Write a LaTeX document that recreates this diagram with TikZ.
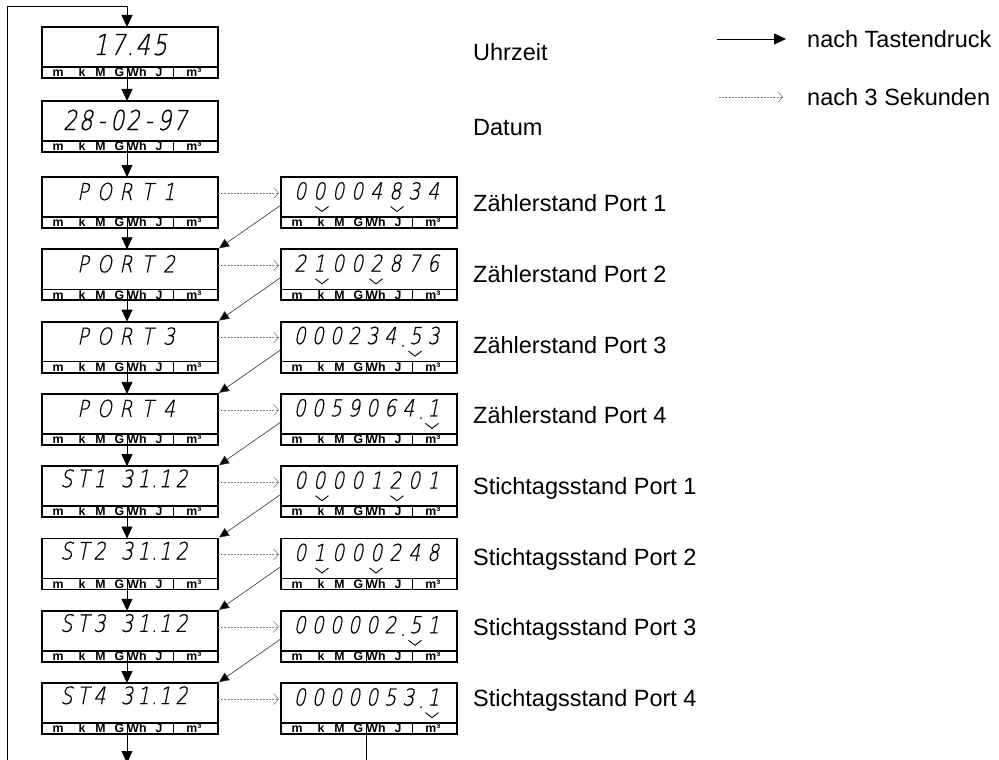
\documentclass[tikz,border=0pt]{standalone}
\usepackage{fontspec}
\setmainfont{Liberation Sans}
\newfontfamily\lcdfont{DejaVu Sans ExtraLight}[FakeSlant=0.2,FakeStretch=0.8,FakeBold=0.6]
\usetikzlibrary{arrows.meta}
\newlength\cw
\newcommand\dgt[1]{\makebox[\cw]{#1}}
\newcommand\dpt{\makebox[7pt]{\raisebox{-2.5pt}{.}}}
\tikzset{
  lcdbox/.style={draw, line width=1.9pt, minimum width=176pt, minimum height=51pt, inner sep=0pt, outer sep=0pt, anchor=north west},
  unitlbl/.style={font=\bfseries\fontsize{12.3}{12.3}\selectfont, anchor=base, inner sep=0pt},
  lcdtxt/.style={inner sep=0pt, anchor=base west},
  bigdig/.style={lcdtxt, font=\lcdfont\fontsize{28.8}{30}\selectfont},
  middig/.style={lcdtxt, font=\lcdfont\fontsize{27.4}{30}\selectfont},
  smalldig/.style={lcdtxt, font=\lcdfont\fontsize{23.3}{25}\selectfont},
  stdig/.style={lcdtxt, font=\lcdfont\fontsize{24}{25}\selectfont},
  flow/.style={line width=0.8pt, -{Triangle[length=12pt,width=11pt]}},
  flowdiag/.style={line width=0.6pt, draw=black!80, -{Triangle[length=10pt,width=9pt,fill=black]}},
  timed/.style={line width=0.6pt, draw=gray, dash pattern=on 2pt off 1.2pt, -{Straight Barb[length=5pt,width=11pt]}},
  lbl/.style={font=\fontsize{23.5}{23.5}\selectfont, anchor=base west, inner sep=0pt},
  chev/.style={line width=0.9pt}
}
\newcommand\unitbar[1]{%
  \draw[line width=1.6pt] ([yshift=-40pt]#1.north west) -- ([yshift=-40pt]#1.north east);
  \draw[line width=0.8pt] ([shift={(85,40)}]#1.north west) -- ([xshift=85pt]#1.south west);
  \draw[line width=0.8pt] ([shift={(131,40)}]#1.north west) -- ([xshift=131pt]#1.south west);
  \foreach \u/\p [count=\k] in {m/16,k/40,M/58.5,G/77.5,Wh/95,J/117,m³/152}
    \node[unitlbl] (#1-u\k) at ([shift={(\p,49.7)}]#1.north west) {\u};
}
\newcommand\chv[2]{\draw[chev] ([shift={(#2-6.5,29.5)}]#1.north west) -- ([shift={(#2,34.5)}]#1.north west) -- ([shift={(#2+6.5,29.5)}]#1.north west);}
\newcommand\rdisp[3]{\node[smalldig] (#1-t) at ([shift={(9.5,22.4)}]#1.north west) {\setlength\cw{#2}#3};}
\newcommand\stdisp[2]{\node[stdig] (#1-t) at ([shift={(16,21)}]#1.north west) {\setlength\cw{16.5pt}#2};}
\newcommand\portdisp[2]{\node[smalldig] (#1-t) at ([shift={(30,23)}]#1.north west) {\setlength\cw{21.5pt}#2};}

\begin{document}
\begin{tikzpicture}[x=1pt,y=-1pt]
\useasboundingbox (0,0) rectangle (999,760);

% left column boxes
\foreach \i/\t in {1/27,2/101,3/177,4/249.3,5/321.6,6/393.9,7/466.2,8/538.5,9/610.8,10/683.1}{
  \node[lcdbox] (L\i) at (42,\t) {};
  \unitbar{L\i}
}
% right column boxes
\foreach \i/\t in {3/177,4/249.3,5/321.6,6/393.9,7/466.2,8/538.5,9/610.8,10/683.1}{
  \node[lcdbox] (R\i) at (281,\t) {};
  \unitbar{R\i}
}

% left displays
\node[bigdig] (L1-t) at ([shift={(50,28)}]L1.north west) {\setlength\cw{17pt}\dgt1\dgt7\makebox[8pt]{.}\dgt4\dgt5};
\node[middig] (L2-t) at ([shift={(20,29)}]L2.north west) {\setlength\cw{15.7pt}\dgt2\dgt8\dgt-\dgt0\dgt2\dgt-\dgt9\dgt7};
\portdisp{L3}{\dgt P\dgt O\dgt R\dgt T\makebox[0pt]{ }\dgt1}
\portdisp{L4}{\dgt P\dgt O\dgt R\dgt T\makebox[0pt]{ }\dgt2}
\portdisp{L5}{\dgt P\dgt O\dgt R\dgt T\makebox[0pt]{ }\dgt3}
\portdisp{L6}{\dgt P\dgt O\dgt R\dgt T\makebox[0pt]{ }\dgt4}
\stdisp{L7}{\dgt S\dgt T\dgt1\hspace{11pt}\dgt3\dgt1\makebox[5pt]{.}\dgt1\dgt2}
\stdisp{L8}{\dgt S\dgt T\dgt2\hspace{11pt}\dgt3\dgt1\makebox[5pt]{.}\dgt1\dgt2}
\stdisp{L9}{\dgt S\dgt T\dgt3\hspace{11pt}\dgt3\dgt1\makebox[5pt]{.}\dgt1\dgt2}
\stdisp{L10}{\dgt S\dgt T\dgt4\hspace{11pt}\dgt3\dgt1\makebox[5pt]{.}\dgt1\dgt2}

% right displays
\rdisp{R3}{19pt}{\dgt0\dgt0\dgt0\dgt0\dgt4\dgt8\dgt3\dgt4}
\rdisp{R4}{19pt}{\dgt2\dgt1\dgt0\dgt0\dgt2\dgt8\dgt7\dgt6}
\rdisp{R5}{18.1pt}{\dgt0\dgt0\dgt0\dgt2\dgt3\dgt4\dpt\dgt5\dgt3}
\rdisp{R6}{18.1pt}{\dgt0\dgt0\dgt5\dgt9\dgt0\dgt6\dgt4\dpt\dgt1}
\rdisp{R7}{19pt}{\dgt0\dgt0\dgt0\dgt0\dgt1\dgt2\dgt0\dgt1}
\rdisp{R8}{19pt}{\dgt0\dgt1\dgt0\dgt0\dgt0\dgt2\dgt4\dgt8}
\rdisp{R9}{18.1pt}{\dgt0\dgt0\dgt0\dgt0\dgt0\dgt2\dpt\dgt5\dgt1}
\rdisp{R10}{18.1pt}{\dgt0\dgt0\dgt0\dgt0\dgt0\dgt5\dgt3\dpt\dgt1}

% unit markers
\chv{R3}{41}\chv{R3}{116}
\chv{R4}{41}\chv{R4}{95}
\chv{R5}{134}
\chv{R6}{151}
\chv{R7}{41}\chv{R7}{116}
\chv{R8}{41}\chv{R8}{95}
\chv{R9}{134}
\chv{R10}{151}

% labels
\node[lbl] (T1) at (473,61) {Uhrzeit};
\node[lbl] (T2) at (473,135) {Datum};
\node[lbl] (T3) at (473,211.7) {Zählerstand Port 1};
\node[lbl] (T4) at (473,282.4) {Zählerstand Port 2};
\node[lbl] (T5) at (473,353.1) {Zählerstand Port 3};
\node[lbl] (T6) at (473,423.8) {Zählerstand Port 4};
\node[lbl] (T7) at (473,494.5) {Stichtagsstand Port 1};
\node[lbl] (T8) at (473,565.2) {Stichtagsstand Port 2};
\node[lbl] (T9) at (473,635.9) {Stichtagsstand Port 3};
\node[lbl] (T10) at (473,706.6) {Stichtagsstand Port 4};

% loop back
\coordinate (loopA) at (7,760);
\coordinate (loopB) at (7,6);
\draw[flow] (loopA) -- (loopB) -| ([xshift=85pt]L1.north west);

% vertical flow
\foreach \i [evaluate=\i as \j using int(\i+1)] in {1,...,9}{
  \draw[flow] ([xshift=85pt]L\i.south west) -- ([xshift=85pt]L\j.north west);
}
\coordinate (endA) at (127,763);
\draw[flow] ([xshift=85pt]L10.south west) -- (endA);
\coordinate (endB) at (366.5,760);
\draw[line width=0.6pt] ([xshift=85.5pt]R10.south west) -- (endB);

% timed arrows and returns
\foreach \i in {3,...,10}{
  \draw[timed] ([yshift=-16pt]L\i.north east) -- ([yshift=-16pt,xshift=-2pt]R\i.north west);
}
\foreach \i [evaluate=\i as \j using int(\i+1)] in {3,...,9}{
  \draw[flowdiag] ([yshift=-28pt]R\i.north west) -- ([xshift=1pt,yshift=1pt]L\j.north east);
}

% legend
\coordinate (legA) at (717,39);
\coordinate (legB) at (786,39);
\coordinate (legC) at (719,97);
\coordinate (legD) at (783,97);
\draw[flow] (legA) -- (legB);
\draw[timed] (legC) -- (legD);
\node[lbl] (leg1) at (807,47.4) {nach Tastendruck};
\node[lbl] (leg2) at (807,105.4) {nach 3 Sekunden};
\end{tikzpicture}
\end{document}
